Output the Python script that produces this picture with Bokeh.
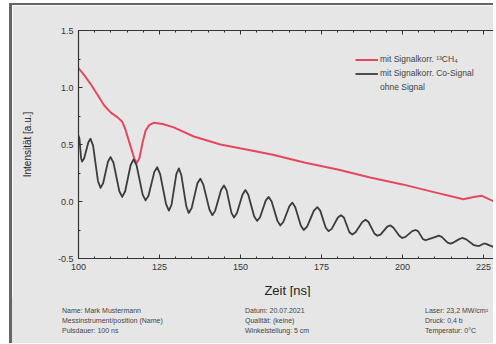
from bokeh.plotting import figure
from bokeh.models import (Range1d, LinearAxis, FixedTicker, Legend, LegendItem,
                          CustomJSTickFormatter, Div)
from bokeh.layouts import column
from bokeh.embed import file_html
from bokeh.resources import INLINE

# ---- data ----
red_t = [100.0, 102.0, 104.0, 106.0, 108.0, 110.0, 112.0, 113.5, 114.5, 116.0, 117.3, 118.0,
         118.8, 119.8, 120.7, 121.8, 123.2, 126.0, 129.4, 135.6, 143.8, 153.0, 160.0, 170.0,
         180.0, 190.0, 200.0, 210.0, 218.8, 222.0, 224.5, 229.0]
red_i = [1.17, 1.10, 1.02, 0.93, 0.84, 0.78, 0.74, 0.70, 0.63, 0.49, 0.37, 0.34,
         0.38, 0.52, 0.62, 0.67, 0.69, 0.68, 0.65, 0.57, 0.50, 0.45, 0.41, 0.34,
         0.28, 0.21, 0.15, 0.08, 0.02, 0.04, 0.05, -0.01]

blk_t = [100.0, 100.3, 100.8, 101.1, 101.75, 103.05, 103.7, 104.5, 106.0, 106.8, 107.6, 109.1,
         109.9, 110.8, 112.6, 113.5, 114.4, 116.1, 117.0, 117.9, 119.8, 120.7, 121.6, 123.4,
         124.3, 125.2, 127.0, 127.9, 128.7, 130.2, 131.0, 131.75, 133.25, 134.0, 134.9, 136.7,
         137.6, 138.5, 140.4, 141.3, 142.2, 144.0, 144.9, 145.7, 147.2, 148.0, 148.9, 150.6,
         151.5, 152.4, 154.2, 155.1, 156.0, 157.8, 158.7, 159.6, 161.4, 162.3, 163.2, 165.1,
         166.0, 166.9, 168.6, 169.5, 170.55, 172.65, 173.7, 174.6, 176.3, 177.2, 178.15, 180.05,
         181.0, 181.9, 183.6, 184.5, 185.5, 187.6, 188.6, 189.5, 191.3, 192.2, 193.2, 195.3,
         196.3, 197.2, 199.0, 199.9, 200.9, 203.0, 204.0, 204.8, 206.3, 207.1, 208.1, 210.2,
         211.2, 212.1, 213.9, 214.8, 215.7, 217.5, 218.4, 219.55, 221.85, 223.0, 223.65, 224.95,
         225.6, 226.45, 228.15, 229.0]
blk_i = [0.58, 0.55, 0.38, 0.35, 0.38, 0.52, 0.55, 0.49, 0.18, 0.12, 0.16, 0.35,
         0.39, 0.34, 0.09, 0.04, 0.09, 0.32, 0.37, 0.32, 0.06, 0.01, 0.05, 0.26,
         0.30, 0.24, -0.02, -0.08, -0.03, 0.24, 0.29, 0.23, -0.04, -0.10, -0.06, 0.16,
         0.20, 0.15, -0.07, -0.12, -0.08, 0.10, 0.14, 0.10, -0.10, -0.14, -0.10, 0.06,
         0.10, 0.06, -0.13, -0.17, -0.14, 0.01, 0.04, 0.00, -0.17, -0.21, -0.18, -0.04,
         -0.01, -0.05, -0.21, -0.25, -0.22, -0.08, -0.05, -0.08, -0.23, -0.26, -0.24, -0.14,
         -0.12, -0.14, -0.27, -0.29, -0.27, -0.18, -0.16, -0.18, -0.28, -0.30, -0.29, -0.22,
         -0.21, -0.23, -0.30, -0.32, -0.31, -0.26, -0.25, -0.26, -0.33, -0.34, -0.33, -0.31,
         -0.30, -0.31, -0.36, -0.37, -0.36, -0.33, -0.32, -0.33, -0.38, -0.39, -0.39, -0.37,
         -0.37, -0.38, -0.40, -0.41]

x_ticks = [100, 125, 150, 175, 200, 225]
y_ticks = [-0.5, 0.0, 0.5, 1.0, 1.5]
legend_labels = ["mit Signalkorr. \u00b9\u00b3CH\u2084", "mit Signalkorr. Co-Signal", "ohne Signal"]

footer_col1 = ["Name: Mark Mustermann", "Messinstrument/position (Name)", "Pulsdauer: 100 ns"]
footer_col2 = ["Datum: 20.07.2021", "Qualit\u00e4t: (keine)", "Winkelstellung: 5 cm"]
footer_col3 = ["Laser: 23,2 MW/cm\u00b2", "Druck: 0,4 b", "Temperatur: 0\u00b0C"]

BG = "#e6e6e6"
FONT = "Liberation Sans"
AX = "#333333"

p = figure(width=484, height=297, output_backend="svg", toolbar_location=None,
           x_range=Range1d(100, 229), y_range=Range1d(-0.5, 1.5),
           min_border_left=66, min_border_top=25, min_border_bottom=44, min_border_right=0)
p.styles = {"margin-left": "9px", "margin-top": "3px",
            "border-left": "3px solid #666666", "border-top": "2px solid #666666"}
p.background_fill_color = BG
p.border_fill_color = BG
p.outline_line_color = None
p.grid.visible = False

xa = p.xaxis[0]
xa.ticker = FixedTicker(ticks=x_ticks, minor_ticks=list(range(100, 230, 5)))
ya = p.yaxis[0]
ya.ticker = FixedTicker(ticks=y_ticks, minor_ticks=[-0.5 + 0.25 * k for k in range(9)])
ya.formatter = CustomJSTickFormatter(code="return tick.toFixed(1);")

for ax in (xa, ya):
    ax.axis_line_color = AX
    ax.axis_line_width = 1.2
    ax.major_tick_in = 4
    ax.major_tick_out = 0
    ax.minor_tick_in = 2
    ax.minor_tick_out = 0
    ax.major_tick_line_color = AX
    ax.minor_tick_line_color = AX
    ax.major_label_text_font = FONT
    ax.major_label_text_font_size = "9px"
    ax.major_label_text_color = AX
    ax.axis_label_text_font = FONT
    ax.axis_label_text_font_style = "normal"
    ax.axis_label_text_color = "#222222"

xa.axis_label = "Zeit [ns]"
xa.axis_label_text_font_size = "13px"
xa.axis_label_standoff = 10
ya.axis_label = "Intensit\u00e4t [a.u.]"
ya.axis_label_text_font_size = "10px"
ya.axis_label_standoff = 22

top = LinearAxis(ticker=FixedTicker(ticks=x_ticks, minor_ticks=list(range(100, 230, 5))))
top.major_label_text_color = None
top.axis_line_color = AX
top.axis_line_width = 1.2
top.major_tick_in = 4
top.major_tick_out = 0
top.minor_tick_in = 2
top.minor_tick_out = 0
top.major_tick_line_color = AX
top.minor_tick_line_color = AX
p.add_layout(top, "above")

r_red = p.line(red_t, red_i, line_color="#e5485c", line_width=2.0, line_join="round")
r_blk = p.line(blk_t, blk_i, line_color="#3c3c3c", line_width=1.8, line_join="round")
r_none = p.line(x=[], y=[], line_color="#f2c4cc", line_width=1.5)

legend = Legend(items=[LegendItem(label=legend_labels[0], renderers=[r_red]),
                       LegendItem(label=legend_labels[1], renderers=[r_blk]),
                       LegendItem(label=legend_labels[2], renderers=[r_none])],
                location=(277, 166), background_fill_alpha=0, border_line_color=None,
                label_text_font=FONT, label_text_font_size="8.5px", label_text_color="#444444",
                glyph_width=23, glyph_height=9, spacing=4, padding=0, margin=0,
                label_standoff=2, label_height=9)
p.add_layout(legend, "center")

# footer (HTML text below the chart)
spans = []
for col, xs in ((footer_col1, 50), (footer_col2, 233), (footer_col3, 413)):
    for k, txt in enumerate(col):
        spans.append(
            f'<span style="position:absolute;left:{xs}px;top:{10 + 10 * k}px;'
            f'font-family:\'Liberation Sans\';font-size:7px;line-height:8px;'
            f'color:#444444;white-space:nowrap">{txt}</span>')
footer = Div(text='<div style="position:relative;width:484px;height:46px">' + "".join(spans) + "</div>",
             width=484, height=46)
footer.styles = {"margin-left": "9px", "margin-top": "-3px", "border-left": "3px solid #666666",
                 "background-color": BG, "overflow": "hidden"}

layout = column(p, footer, spacing=0)
open("out.html", "w").write(file_html(layout, INLINE))
